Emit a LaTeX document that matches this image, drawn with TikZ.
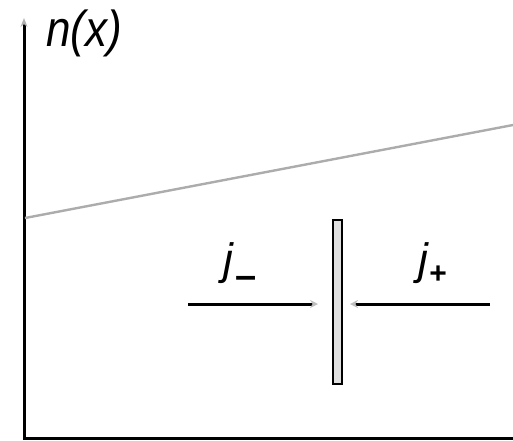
\documentclass[tikz,border=0pt]{standalone}
\usepackage{fontspec}
\setmainfont{Liberation Sans}
\usetikzlibrary{arrows.meta,positioning}

\begin{document}
\begin{tikzpicture}[
  x=1pt, y=-1pt,
  font=\itshape\fontsize{44}{50}\selectfont,
  AxisStyle/.style={line width=3pt, -{Stealth[length=9pt,width=7pt,color=gray!60]}},
  FluxStyle/.style={line width=3pt, -{Stealth[length=8pt,width=8pt,color=gray!50]}},
  WallStyle/.style={draw, line width=1.6pt, fill=gray!25, minimum width=9pt,
                    minimum height=164pt, inner sep=0pt, outer sep=0pt},
  ]
\useasboundingbox (0,0) rectangle (513,440);

% axes
\coordinate (origin) at (24,438);
\coordinate (xend) at (515,438);
\coordinate (yend) at (24,18);
\draw [AxisStyle] (xend) -- (origin) -- (yend);
\node (nx) at (84,33) {\scalebox{1}[1.15]{n(x)}};

% density profile
\coordinate (nleft) at (25,218);
\coordinate (nright) at (513,125);
\draw [gray!65, line width=2.4pt] (nleft) -- (nright);

% wall
\node [WallStyle] (wall) at (337.5,302) {};

% fluxes
\coordinate (jmstart) at (188,304);
\coordinate (jpstart) at (490,304);
\draw [FluxStyle] (jmstart) -- ([xshift=-15pt]wall.west |- jmstart);
\draw [FluxStyle] (jpstart) -- ([xshift=8pt]wall.east |- jpstart);

\node [anchor=base west] (jm) at (220,274)
  {j\hspace{2pt}{\normalfont\bfseries\fontsize{38}{38}\selectfont\raisebox{-14pt}{–}}};
\node [anchor=base west] (jp) at (415,274)
  {j\hspace{1pt}{\normalfont\bfseries\fontsize{30}{30}\selectfont\raisebox{-9pt}{+}}};
\end{tikzpicture}
\end{document}
